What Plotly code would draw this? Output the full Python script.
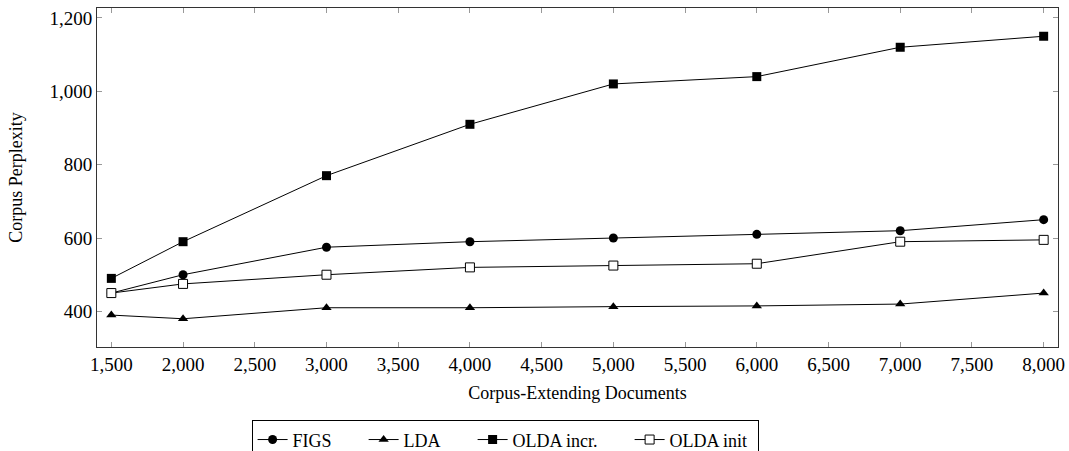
import plotly.graph_objects as go

docs = [1500, 2000, 3000, 4000, 5000, 6000, 7000, 8000]
figs = [450, 500, 575, 590, 600, 610, 620, 650]
lda = [390, 380, 410, 410, 413, 415, 420, 450]
olda_incr = [490, 590, 770, 910, 1020, 1040, 1120, 1150]
olda_init = [450, 475, 500, 520, 525, 530, 590, 595]

x_ticks = [1500, 2000, 2500, 3000, 3500, 4000, 4500, 5000, 5500, 6000, 6500, 7000, 7500, 8000]
y_ticks = [400, 600, 800, 1000, 1200]
names = ["FIGS", "LDA", "OLDA incr.", "OLDA init"]

FONT = "'Liberation Serif', 'DejaVu Serif', serif"
PAD = "\u00a0" * 6

fig = go.Figure()
markers = [
    dict(symbol="circle", size=9, color="black"),
    dict(symbol="triangle-up", size=9, color="black"),
    dict(symbol="square", size=9, color="black"),
    dict(symbol="square", size=9, color="white", line=dict(color="black", width=1)),
]
for i, (name, ys, mk) in enumerate(zip(names, [figs, lda, olda_incr, olda_init], markers)):
    label = name + (PAD if i < len(names) - 1 else "\u00a0")
    fig.add_trace(go.Scatter(x=docs, y=ys, name=label, mode="lines+markers",
                             line=dict(color="black", width=1), marker=mk))

axis_common = dict(showgrid=False, zeroline=False, showline=True, linecolor="#333333",
                   linewidth=1, mirror="ticks", ticks="inside", ticklen=5, automargin=False,
                   tickcolor="#999999", tickfont=dict(family=FONT, size=19, color="black"))

fig.update_xaxes(range=[1400, 8100], tickvals=x_ticks, tickformat=",d",
                 title=dict(text="Corpus-Extending Documents", font=dict(family=FONT, size=18, color="black"), standoff=12),
                 **axis_common)
fig.update_yaxes(range=[303, 1227], tickvals=y_ticks, tickformat=",d",
                 title=dict(text="Corpus Perplexity", font=dict(family=FONT, size=18, color="black"), standoff=22),
                 **axis_common)

fig.update_layout(
    width=1069, height=451,
    margin=dict(l=97, r=11, t=8, b=104, autoexpand=False),
    plot_bgcolor="white", paper_bgcolor="white",
    font=dict(family=FONT, size=18, color="black"),
    separators=".,",
    showlegend=True,
    legend=dict(orientation="h", x=0.4725, xref="container", xanchor="center",
                y=0.068, yref="container", yanchor="top",
                bordercolor="black", borderwidth=1, bgcolor="white",
                font=dict(family=FONT, size=18, color="black"),
                itemwidth=30, tracegroupgap=0),
)

fig.write_html("out.html")
